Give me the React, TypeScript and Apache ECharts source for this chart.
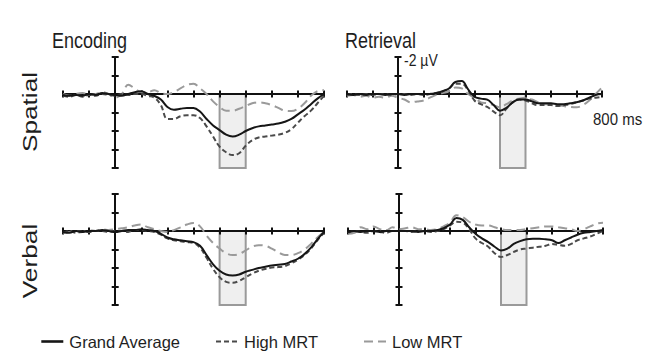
import React, { useEffect, useRef } from "react";
import * as echarts from "echarts";

// time points (ms)
const TIMES = [
  -200, -175, -150, -125, -100, -75, -50, -25, 0, 25, 50, 75, 100, 125, 150, 175, 200,
  225, 250, 275, 300, 325, 350, 375, 400, 425, 450, 475, 500, 525, 550, 575, 600, 625,
  650, 675, 700, 725, 750, 775, 800,
];

// amplitude in µV (negative plotted upward)
const SPATIAL_ENC_GA = [
  0.05, 0.1, 0.05, 0.1, 0.0, 0.05, -0.05, 0.0, 0.05, 0.1, 0.0, -0.1, -0.15, 0.0, 0.1, 0.3, 0.7,
  0.85, 0.8, 0.75, 0.75, 0.95, 1.35, 1.7, 1.95, 2.2, 2.3, 2.2, 2.0, 1.85, 1.75, 1.7, 1.65, 1.6,
  1.5, 1.35, 1.1, 0.85, 0.55, 0.25, 0.0,
];
const SPATIAL_ENC_HIGH = [
  0.1, 0.15, 0.05, 0.15, 0.05, 0.1, 0.0, 0.05, 0.1, 0.0, 0.05, 0.0, 0.0, 0.1, 0.2, 0.6, 1.35,
  1.35, 1.2, 1.15, 1.15, 1.3, 1.75, 2.3, 2.85, 3.15, 3.3, 3.2, 2.8, 2.5, 2.35, 2.3, 2.25, 2.2,
  2.1, 1.9, 1.55, 1.2, 0.9, 0.5, 0.1,
];
const SPATIAL_ENC_LOW = [
  0.0, 0.1, 0.0, -0.05, 0.05, 0.0, -0.1, 0.0, 0.2, 0.0, -0.5, -0.3, -0.1, -0.1, -0.2, -0.05, 0.0,
  -0.1, -0.3, -0.5, -0.55, -0.3, 0.0, 0.4, 0.7, 0.9, 0.9, 0.8, 0.65, 0.5, 0.45, 0.5, 0.6, 0.75,
  0.9, 0.92, 0.8, 0.5, 0.1, -0.15, -0.2,
];

const SPATIAL_RET_GA = [
  0.0, 0.05, 0.0, 0.05, 0.0, 0.0, 0.05, 0.0, 0.0, 0.05, 0.0, 0.0, 0.0, 0.0, -0.05, -0.15, -0.3,
  -0.65, -0.7, -0.25, 0.15, 0.25, 0.3, 0.6, 0.9, 0.75, 0.45, 0.3, 0.3, 0.4, 0.5, 0.5, 0.5, 0.55,
  0.55, 0.5, 0.45, 0.35, 0.2, 0.05, 0.0,
];
const SPATIAL_RET_HIGH = [
  0.05, 0.0, 0.05, 0.0, 0.05, 0.0, 0.0, 0.05, 0.0, 0.0, 0.05, 0.0, 0.05, 0.0, -0.05, -0.15, -0.3,
  -0.55, -0.55, -0.2, 0.35, 0.55, 0.7, 0.95, 1.15, 0.8, 0.45, 0.3, 0.35, 0.5, 0.6, 0.6, 0.6, 0.65,
  0.6, 0.55, 0.45, 0.35, 0.25, 0.2, 0.15,
];
const SPATIAL_RET_LOW = [
  0.1, 0.05, 0.15, 0.1, 0.2, 0.15, 0.2, 0.1, 0.2, 0.3, 0.45, 0.4, 0.35, 0.2, 0.05, -0.05, -0.15,
  -0.35, -0.3, 0.0, 0.2, 0.45, 0.5, 0.6, 0.72, 0.55, 0.35, 0.25, 0.2, 0.3, 0.45, 0.55, 0.55, 0.6,
  0.65, 0.7, 0.72, 0.6, 0.35, 0.0, -0.35,
];

const VERBAL_ENC_GA = [
  0.05, 0.1, 0.0, 0.05, 0.0, 0.0, -0.05, 0.0, 0.05, 0.0, -0.05, -0.05, -0.1, -0.05, 0.0, 0.15, 0.35,
  0.45, 0.5, 0.55, 0.6, 0.8, 1.3, 1.8, 2.15, 2.35, 2.4, 2.35, 2.2, 2.1, 2.0, 1.93, 1.86, 1.82,
  1.78, 1.65, 1.5, 1.25, 0.9, 0.45, 0.05,
];
const VERBAL_ENC_HIGH = [
  0.1, 0.0, 0.1, 0.05, 0.05, 0.0, 0.0, 0.05, 0.0, 0.0, 0.05, -0.05, -0.05, 0.0, 0.05, 0.2, 0.4,
  0.5, 0.55, 0.6, 0.65, 0.9, 1.45, 2.05, 2.5, 2.75, 2.8, 2.7, 2.5, 2.3, 2.15, 2.05, 1.98, 1.95,
  1.9, 1.75, 1.55, 1.3, 0.95, 0.5, 0.1,
];
const VERBAL_ENC_LOW = [
  0.1, 0.05, 0.0, 0.05, -0.05, 0.0, -0.1, -0.05, -0.1, -0.15, -0.2, -0.3, -0.35, -0.2, -0.1, 0.0, 0.05,
  -0.05, -0.2, -0.35, -0.43, -0.25, 0.25, 0.65, 0.95, 1.2, 1.3, 1.25, 1.05, 0.85, 0.77, 0.8, 0.95,
  1.15, 1.3, 1.3, 1.2, 1.0, 0.7, 0.35, 0.05,
];

const VERBAL_RET_GA = [
  0.05, 0.0, 0.05, 0.0, 0.0, 0.05, 0.0, 0.0, 0.0, 0.0, 0.0, 0.05, 0.0, 0.0, -0.05, -0.15, -0.35,
  -0.7, -0.6, -0.2, 0.15, 0.4, 0.6, 0.85, 1.05, 0.95, 0.7, 0.55, 0.45, 0.42, 0.42, 0.45, 0.5, 0.65,
  0.5, 0.35, 0.2, 0.1, 0.05, 0.0, -0.05,
];
const VERBAL_RET_HIGH = [
  0.1, 0.0, 0.05, 0.1, 0.0, 0.05, 0.1, 0.0, 0.0, 0.0, 0.05, 0.0, 0.0, 0.05, 0.0, -0.1, -0.3,
  -0.5, -0.45, -0.1, 0.4, 0.65, 0.85, 1.2, 1.4, 1.3, 1.13, 1.0, 0.95, 0.9, 0.85, 0.8, 0.7, 0.75,
  0.8, 0.7, 0.5, 0.4, 0.3, 0.15, 0.0,
];
const VERBAL_RET_LOW = [
  0.15, 0.1, -0.2, -0.1, -0.25, -0.1, -0.05, -0.2, -0.1, -0.15, -0.2, -0.1, -0.1, -0.05, -0.1, -0.25, -0.45,
  -0.85, -0.75, -0.5, -0.35, -0.3, -0.3, -0.2, -0.1, -0.05, -0.05, -0.05, -0.1, -0.15, -0.2, -0.25,
  -0.25, -0.2, -0.15, -0.1, 0.0, -0.1, -0.25, -0.4, -0.45,
];

const SERIES_NAMES = ["Grand Average", "High MRT", "Low MRT"];
const COLUMN_TITLES = ["Encoding", "Retrieval"];
const ROW_LABELS = ["Spatial", "Verbal"];
const X_MIN = -200;
const X_MAX = 800;
const X_STEP = 100;
const Y_MIN = -2;
const Y_MAX = 4;
const Y_STEP = 1;
const WINDOW_START = 400;
const WINDOW_END = 500;
const Y_UNIT_LABEL = "-2 µV";
const X_UNIT_LABEL = "800 ms";

const PANELS = [
  { ga: SPATIAL_ENC_GA, high: SPATIAL_ENC_HIGH, low: SPATIAL_ENC_LOW },
  { ga: SPATIAL_RET_GA, high: SPATIAL_RET_HIGH, low: SPATIAL_RET_LOW },
  { ga: VERBAL_ENC_GA, high: VERBAL_ENC_HIGH, low: VERBAL_ENC_LOW },
  { ga: VERBAL_RET_GA, high: VERBAL_RET_HIGH, low: VERBAL_RET_LOW },
];

const GRIDS = [
  { left: 63, top: 57, width: 261, height: 111 },
  { left: 347, top: 57, width: 255, height: 111 },
  { left: 63, top: 194, width: 261, height: 111 },
  { left: 348, top: 194, width: 255, height: 111 },
];

const FONT = "'Liberation Sans', Arial, Helvetica, sans-serif";
const AXIS_COLOR = "#111";
const TEXT_COLOR = "#1e1e1e";
const STRETCH = 1.25;
const STYLES = {
  "Grand Average": { color: "#161616", type: "solid" as any, width: 2 },
  "High MRT": { color: "#4a4a4a", type: [5, 3] as any, width: 2 },
  "Low MRT": { color: "#9a9a9a", type: [9, 5] as any, width: 2 },
};

function pairs(vals: number[]) {
  return TIMES.map((t, i) => [t, vals[i]]);
}

export default function App() {
  const ref = useRef<HTMLDivElement>(null);

  useEffect(() => {
    if (!ref.current) return;
    const chart = echarts.init(ref.current, undefined, { renderer: "svg" });

    const xAxis: any[] = [];
    const yAxis: any[] = [];
    GRIDS.forEach((_, i) => {
      [true, false].forEach((inside) => {
        xAxis.push({
          type: "value",
          gridIndex: i,
          min: X_MIN,
          max: X_MAX,
          interval: X_STEP,
          position: "bottom",
          z: 3,
          axisLine: {
            show: true,
            onZero: true,
            onZeroAxisIndex: 2 * i,
            lineStyle: { color: AXIS_COLOR, width: 2 },
          },
          axisTick: { show: true, inside, length: 3.5, lineStyle: { color: AXIS_COLOR, width: 2 } },
          axisLabel: { show: false },
          splitLine: { show: false },
        });
        yAxis.push({
          type: "value",
          gridIndex: i,
          inverse: true,
          min: Y_MIN,
          max: Y_MAX,
          interval: Y_STEP,
          position: "left",
          z: 3,
          axisLine: {
            show: true,
            onZero: true,
            onZeroAxisIndex: 2 * i,
            lineStyle: { color: AXIS_COLOR, width: 2 },
          },
          axisTick: { show: true, inside, length: 3.5, lineStyle: { color: AXIS_COLOR, width: 2 } },
          axisLabel: { show: false },
          splitLine: { show: false },
        });
      });
    });

    const series: any[] = [];
    PANELS.forEach((p, i) => {
      const sets: [string, number[]][] = [
        ["Low MRT", p.low],
        ["High MRT", p.high],
        ["Grand Average", p.ga],
      ];
      sets.forEach(([name, vals]) => {
        const st = (STYLES as any)[name];
        const s: any = {
          type: "line",
          name,
          xAxisIndex: 2 * i,
          yAxisIndex: 2 * i,
          data: pairs(vals),
          smooth: 0.4,
          symbol: "none",
          showSymbol: false,
          color: st.color,
          lineStyle: { color: st.color, width: st.width, type: st.type },
          z: 4,
        };
        if (name === "Low MRT") {
          s.markArea = {
            silent: true,
            label: { show: false },
            itemStyle: { color: "#efefef", borderColor: "#9a9a9a", borderWidth: 2 },
            data: [[{ xAxis: WINDOW_START, yAxis: 0 }, { xAxis: WINDOW_END, yAxis: Y_MAX }]],
          };
        }
        series.push(s);
      });
    });

    const legendBase = {
      top: 333,
      padding: 0,
      itemWidth: 22,
      itemHeight: 14,
      selectedMode: false,
      itemStyle: { opacity: 0 },
      textStyle: { fontSize: 16.5, color: TEXT_COLOR, fontFamily: FONT, padding: [0, 0, 0, 1] },
    };

    const option: any = {
      animation: false,
      backgroundColor: "#fff",
      grid: GRIDS.map((g) => ({ ...g, containLabel: false })),
      xAxis,
      yAxis,
      series,
      legend: [
        { ...legendBase, left: 40, data: [SERIES_NAMES[0]], lineStyle: { width: 2.6 } },
        { ...legendBase, left: 215, data: [SERIES_NAMES[1]] },
        { ...legendBase, left: 363, data: [SERIES_NAMES[2]] },
      ],
      graphic: [
        {
          type: "text",
          x: 52,
          y: 29,
          scaleY: STRETCH,
          style: { text: COLUMN_TITLES[0], font: `18px ${FONT}`, fill: TEXT_COLOR, textBaseline: "alphabetic" },
        },
        {
          type: "text",
          x: 345,
          y: 29,
          scaleY: STRETCH,
          style: { text: COLUMN_TITLES[1], font: `18px ${FONT}`, fill: TEXT_COLOR, textBaseline: "alphabetic" },
        },
        {
          type: "text",
          x: 29,
          y: 112,
          rotation: Math.PI / 2,
          scaleX: STRETCH,
          style: {
            text: ROW_LABELS[0],
            font: `21px ${FONT}`,
            fill: TEXT_COLOR,
            textAlign: "center",
            textVerticalAlign: "middle",
          },
        },
        {
          type: "text",
          x: 29,
          y: 261,
          rotation: Math.PI / 2,
          scaleX: STRETCH,
          style: {
            text: ROW_LABELS[1],
            font: `21px ${FONT}`,
            fill: TEXT_COLOR,
            textAlign: "center",
            textVerticalAlign: "middle",
          },
        },
        {
          type: "text",
          x: 404,
          y: 60,
          scaleY: 1.15,
          style: { text: Y_UNIT_LABEL, font: `14px ${FONT}`, fill: TEXT_COLOR, textVerticalAlign: "middle" },
        },
        {
          type: "text",
          x: 593,
          y: 119,
          scaleY: 1.15,
          style: { text: X_UNIT_LABEL, font: `15px ${FONT}`, fill: TEXT_COLOR, textVerticalAlign: "middle" },
        },
      ],
    };

    chart.setOption(option);
    return () => chart.dispose();
  }, []);

  return (
    <div
      ref={ref}
      style={{ position: "fixed", left: 0, top: 0, width: 653, height: 351, background: "#fff" }}
    />
  );
}
